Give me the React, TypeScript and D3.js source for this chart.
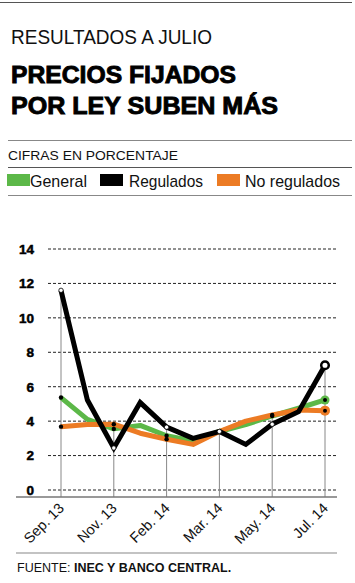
import React from 'react';
import * as d3 from 'd3';

const months = ["Sep. 13", "Oct. 13", "Nov. 13", "Dic. 13", "Ene. 14", "Feb. 14", "Mar. 14", "Abr. 14", "May. 14", "Jun. 14", "Jul. 14"];
const tickLabels = ["Sep. 13", "", "Nov. 13", "", "Feb. 14", "", "Mar. 14", "", "May. 14", "", "Jul. 14"];
const general = [5.37, 4.1, 3.55, 3.75, 3.15, 2.85, 3.4, 3.8, 4.3, 4.75, 5.23];
const regulados = [11.6, 5.23, 2.44, 5.08, 3.65, 3.0, 3.4, 2.65, 3.82, 4.55, 7.25];
const noRegulados = [3.68, 3.8, 3.82, 3.3, 2.95, 2.65, 3.4, 4.0, 4.36, 4.65, 4.61];
const yTicks = [0, 2, 4, 6, 8, 10, 12, 14];
const legendNames = ["General", "Regulados", "No regulados"];

const GREEN = '#5cb848';
const ORANGE = '#ec7b24';
const BLACK = '#000000';
const FONT = '"Liberation Sans", Arial, Helvetica, sans-serif';

export default function App() {
  const x = d3.scalePoint<string>().domain(months).range([61, 325]);
  const y = d3.scaleLinear().domain([0, 14]).range([490, 249]);
  const line = d3.line<number>().x((_, i) => x(months[i]) as number).y(d => y(d));
  const baseY = 497;
  const labeled = months.map((m, i) => i).filter(i => tickLabels[i] !== "");
  const last = months.length - 1;

  const legendItems = [
    { name: legendNames[0], color: GREEN, sx: 7, tx: 30, w: 57 },
    { name: legendNames[1], color: BLACK, sx: 100, tx: 129, w: 74 },
    { name: legendNames[2], color: ORANGE, sx: 217, tx: 245, w: 95 },
  ];

  return (
    <svg width={355} height={583} style={{ position: 'absolute', left: 0, top: 0, background: '#fff' }} fontFamily={FONT}>
      <rect width={355} height={583} fill="#fff" />
      {/* header rules */}
      <line x1={0} x2={352} y1={2.5} y2={2.5} stroke="#555" strokeWidth={1} />
      <text x={11} y={44} fontSize={20} fill="#111" textLength={201} lengthAdjust="spacingAndGlyphs">RESULTADOS A JULIO</text>
      <text x={11} y={83} fontSize={24} fontWeight="bold" fill="#000" stroke="#000" strokeWidth={0.9} textLength={225} lengthAdjust="spacingAndGlyphs">PRECIOS FIJADOS</text>
      <text x={11} y={114} fontSize={24} fontWeight="bold" fill="#000" stroke="#000" strokeWidth={0.9} textLength={267} lengthAdjust="spacingAndGlyphs">POR LEY SUBEN MÁS</text>
      <line x1={8} x2={352} y1={140.5} y2={140.5} stroke="#888" strokeWidth={1.2} />
      <text x={8} y={160} fontSize={13} fill="#111" textLength={170} lengthAdjust="spacingAndGlyphs">CIFRAS EN PORCENTAJE</text>
      <line x1={8} x2={352} y1={167.5} y2={167.5} stroke="#555" strokeWidth={1} />
      {legendItems.map(it => (
        <g key={it.name}>
          <rect x={it.sx} y={174} width={23} height={12} fill={it.color} />
          <text x={it.tx} y={186.5} fontSize={17} fill="#111" textLength={it.w} lengthAdjust="spacingAndGlyphs">{it.name}</text>
        </g>
      ))}
      <line x1={8} x2={352} y1={195.5} y2={195.5} stroke="#888" strokeWidth={1.2} />

      {/* grid */}
      {yTicks.map(t => (
        <g key={t}>
          <line x1={48} x2={337} y1={y(t)} y2={y(t)} stroke="#222" strokeWidth={1} strokeDasharray="3,2" />
          <text x={34} y={y(t)} dy="0.36em" textAnchor="end" fontSize={13.5} fontWeight="bold" fill="#000" stroke="#000" strokeWidth={0.5}>{t}</text>
        </g>
      ))}

      {/* vertical drop lines */}
      {labeled.map(i => {
        const top = Math.max(general[i], regulados[i], noRegulados[i]);
        return <line key={i} x1={x(months[i])} x2={x(months[i])} y1={y(top)} y2={baseY} stroke="#888" strokeWidth={1} />;
      })}

      {/* baseline */}
      <line x1={16} x2={337} y1={baseY} y2={baseY} stroke="#777" strokeWidth={1.5} />

      {/* x labels */}
      {labeled.map(i => {
        const px = (x(months[i]) as number) + 4;
        return (
          <text key={i} x={px} y={509} fontSize={14.5} fill="#111" textAnchor="end" transform={`rotate(-45 ${px} 509)`}>{tickLabels[i]}</text>
        );
      })}

      {/* series */}
      <path d={line(general) || ''} fill="none" stroke={GREEN} strokeWidth={5} strokeLinejoin="round" />
      <path d={line(noRegulados) || ''} fill="none" stroke={ORANGE} strokeWidth={5} strokeLinejoin="round" />
      <path d={line(regulados) || ''} fill="none" stroke={BLACK} strokeWidth={5} strokeLinejoin="miter" />

      {/* markers */}
      {labeled.filter(i => i !== last).map(i => (
        <g key={i}>
          <circle cx={x(months[i])} cy={y(general[i])} r={2.2} fill="#000" />
          <circle cx={x(months[i])} cy={y(noRegulados[i])} r={2.2} fill="#000" />
          <circle cx={x(months[i])} cy={y(regulados[i])} r={2.2} fill="#fff" stroke="#000" strokeWidth={0.8} />
        </g>
      ))}
      <circle cx={x(months[last])} cy={y(general[last])} r={4.5} fill={GREEN} />
      <circle cx={x(months[last])} cy={y(general[last])} r={2} fill="#000" />
      <circle cx={x(months[last])} cy={y(noRegulados[last])} r={5} fill={ORANGE} />
      <circle cx={x(months[last])} cy={y(noRegulados[last])} r={2} fill="#000" />
      <circle cx={x(months[last])} cy={y(regulados[last])} r={3.8} fill="#fff" stroke="#000" strokeWidth={2.5} />

      {/* footer */}
      <line x1={16} x2={337} y1={553} y2={553} stroke="#888" strokeWidth={1.2} />
      <text x={17} y={572} fontSize={12.5} fill="#111">
        FUENTE: <tspan fontWeight="bold">INEC Y BANCO CENTRAL.</tspan>
      </text>
    </svg>
  );
}
